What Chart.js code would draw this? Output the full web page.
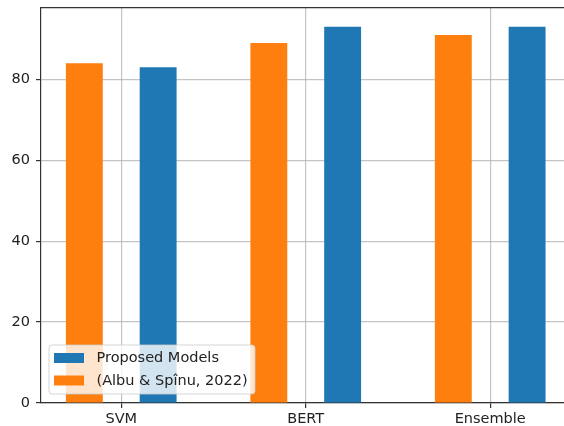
<!DOCTYPE html>
<html>
<head>
<meta charset="utf-8">
<script src="https://cdn.jsdelivr.net/npm/chart.js@4.4.0/dist/chart.umd.min.js"></script>
<style>
    html, body { margin: 0; padding: 0; background: #fff; overflow: hidden; }
    #wrap { width: 564px; height: 426px; }
</style>
</head>
<body>
<div id="wrap"><canvas id="barChart" width="564" height="426"></canvas></div>
<script>
/* data */
const categories = ['SVM', 'BERT', 'Ensemble'];
const proposedModels = [83, 93, 93];
const albuSpinu = [84, 89, 91];
const yTicks = [0, 20, 40, 60, 80];
const legendLabels = ['Proposed Models', '(Albu & Spînu, 2022)'];

const BLUE = '#1f77b4';
const ORANGE = '#ff7f0e';
const FONT = 'DejaVu Sans';

// matplotlib-like legend box in the lower left of the plot area
const boxLegend = {
    id: 'boxLegend',
    afterDraw(chart) {
        const ctx = chart.ctx;
        const area = chart.chartArea;
        const x = area.left + 8, y = area.bottom - 58, w = 206, h = 49;
        ctx.save();
        ctx.beginPath();
        ctx.roundRect(x, y, w, h, 3);
        ctx.fillStyle = 'rgba(255,255,255,0.8)';
        ctx.fill();
        ctx.strokeStyle = 'rgba(204,204,204,0.8)';
        ctx.lineWidth = 1;
        ctx.stroke();

        const items = [
            { text: legendLabels[0], color: BLUE },
            { text: legendLabels[1], color: ORANGE }
        ];
        ctx.font = '14.5px "' + FONT + '"';
        ctx.textBaseline = 'middle';
        items.forEach((item, i) => {
            const cy = y + 13 + i * 22.5;
            ctx.fillStyle = item.color;
            ctx.fillRect(x + 5, cy - 5, 30, 10);
            ctx.fillStyle = '#222';
            ctx.fillText(item.text, x + 47.5, cy + 0.5);
        });
        ctx.restore();
    }
};

function fixBox(size) {
    return function(s) {
        if (s.isHorizontal()) s.height = size; else s.width = size;
        s.paddingTop = 0;
        s.paddingBottom = 0;
        s.paddingLeft = 0;
        s.paddingRight = 0;
    };
}

function loadBarChart() {
    const ctx = document.getElementById('barChart');

    new Chart(ctx, {
        type: 'bar',
        data: {
            datasets: [{
                label: legendLabels[1],
                data: albuSpinu.map((v, i) => ({ x: i, y: v })),
                backgroundColor: ORANGE,
                borderWidth: 0
            }, {
                label: legendLabels[0],
                data: proposedModels.map((v, i) => ({ x: i, y: v })),
                backgroundColor: BLUE,
                borderWidth: 0
            }]
        },
        options: {
            responsive: false,
            animation: false,
            barPercentage: 0.5,
            categoryPercentage: 0.8,
            layout: { padding: 0 },
            plugins: {
                legend: { display: false },
                tooltip: { enabled: false }
            },
            scales: {
                x: {
                    type: 'linear',
                    position: 'bottom',
                    min: -0.435,
                    max: 2.4,
                    offset: false,
                    z: 1,
                    afterBuildTicks: s => { s.ticks = categories.map((c, i) => ({ value: i })); },
                    afterFit: fixBox(23),
                    grid: {
                        offset: false,
                        color: 'rgba(176,176,176,0.75)',
                        lineWidth: 1.2,
                        tickColor: '#333',
                        tickLength: 5
                    },
                    border: { color: '#333', width: 1.2 },
                    ticks: {
                        padding: 3,
                        color: '#222',
                        font: { family: FONT, size: 14.5 },
                        maxRotation: 0,
                        callback: value => categories[value]
                    }
                },
                xTop: {
                    type: 'linear',
                    position: 'top',
                    min: -0.435,
                    max: 2.4,
                    afterFit: fixBox(8),
                    grid: { display: false, drawTicks: false },
                    border: { color: '#333', width: 1.2 },
                    ticks: { display: false }
                },
                y: {
                    min: 0,
                    max: 97.65,
                    z: 1,
                    afterBuildTicks: s => { s.ticks = yTicks.map(v => ({ value: v })); },
                    afterFit: fixBox(41),
                    grid: {
                        color: 'rgba(176,176,176,0.75)',
                        lineWidth: 1.2,
                        tickColor: '#333',
                        tickLength: 5
                    },
                    border: { color: '#333', width: 1.2 },
                    ticks: {
                        padding: 6,
                        color: '#222',
                        font: { family: FONT, size: 14.5 }
                    }
                }
            }
        },
        plugins: [boxLegend]
    });
}

loadBarChart();
</script>
</body>
</html>
